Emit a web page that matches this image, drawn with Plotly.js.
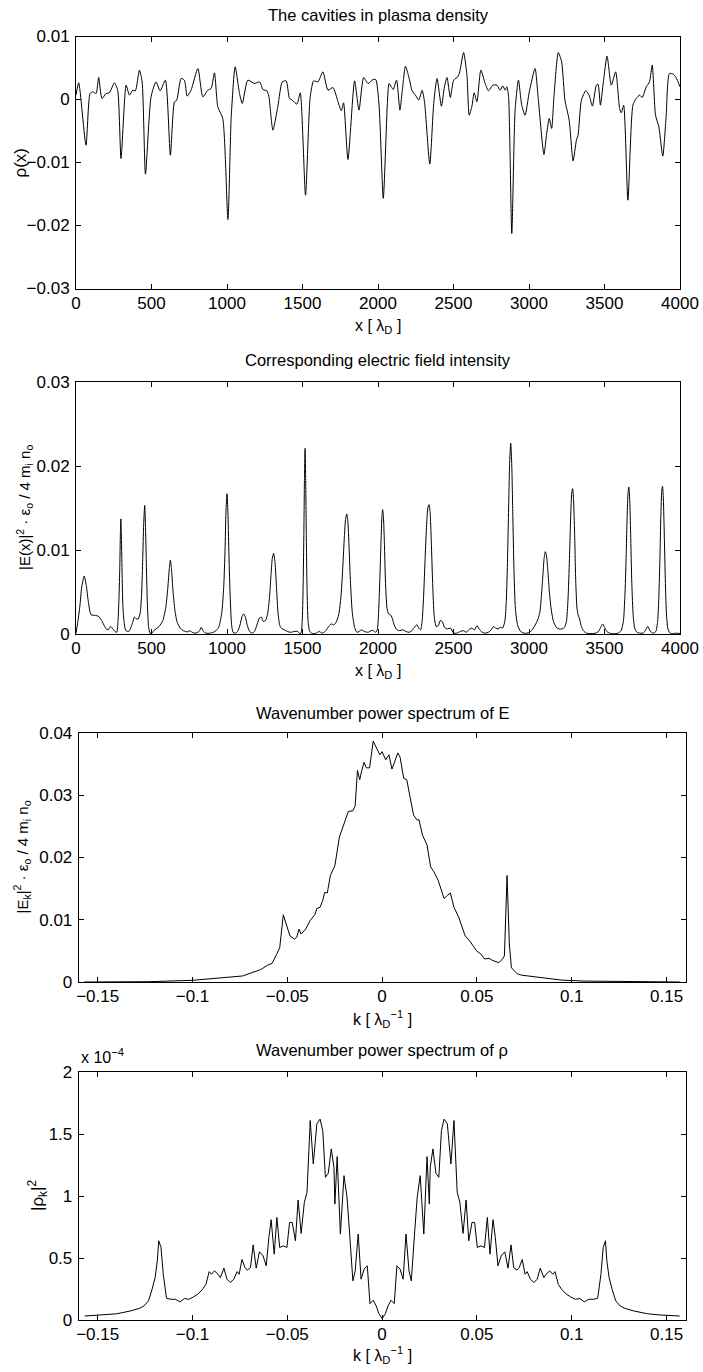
<!DOCTYPE html>
<html><head><meta charset="utf-8">
<script src="https://cdn.plot.ly/plotly-3.0.1.min.js"></script>
<style>html,body{margin:0;padding:0;background:#fff}</style>
</head><body><div id="chart" style="width:703px;height:1372px"></div>
<script>
// ---------- Panel 1: density rho(x), values in units of 1e-3 ----------
const rhoX = [0,18,66,93,110,133,150,172,199,221,254,276,298,332,354,376,393,420,438,460,497,530,557,592,625,652,667,696,718,736,762,807,840,873,895,917,939,972,1006,1028,1054,1083,1101,1138,1182,1216,1238,1264,1277,1304,1337,1366,1392,1414,1432,1463,1485,1520,1551,1574,1602,1635,1669,1702,1735,1757,1772,1801,1845,1874,1905,1934,1967,1985,2007,2035,2062,2073,2088,2101,2123,2145,2160,2182,2204,2226,2248,2270,2292,2308,2343,2369,2391,2420,2440,2457,2479,2501,2528,2541,2567,2589,2604,2622,2637,2655,2681,2710,2732,2760,2787,2809,2826,2842,2853,2864,2886,2908,2930,2952,2974,3002,3040,3062,3099,3117,3134,3150,3165,3194,3216,3238,3266,3292,3314,3325,3347,3376,3398,3420,3446,3457,3473,3490,3517,3545,3574,3600,3611,3627,3655,3688,3710,3732,3750,3776,3798,3816,3838,3860,3886,3908,3930,3956,3974,4000];
const rhoVal = [0.69,2.65,-7.25,0.95,1.22,0.95,3.49,0.16,0.95,1.06,2.65,1.48,-9.37,2.28,0.69,1.48,1.38,4.66,2.8,-11.85,0.42,2.8,1.38,3.07,-8.84,-0.37,-0.1,3.33,3.07,0.53,1.48,4.92,0.42,1.48,1.75,4.23,-1.16,-3.02,-19.05,-2.75,5.19,0.95,-0.63,3.07,2.54,2.8,1.59,1.38,0.53,-4.87,-1.06,2.8,2.96,0.16,-0.1,-0.74,1.06,-15.19,0.42,2.96,2.8,4.39,1.48,1.9,-0.37,-1.8,-0.53,-9.52,2.96,-1.69,3.49,2.54,3.17,3.17,-0.9,-15.7,-0.63,2.54,2.01,1.59,3.07,-1.69,1.22,5.29,3.6,1.38,0.69,-0.1,1.48,-0.37,-10.26,-0.63,3.33,-1.06,2.01,3.49,0.32,3.07,3.6,4.39,7.46,3.86,-2.49,-1.06,1.06,-0.37,4.66,2.54,1.38,2.28,2.28,1.48,2.17,1.48,2.01,0.69,-21.27,-1.69,3.07,-0.9,-2.49,1.22,4.92,-0.1,-8.73,-5.4,-3.02,-4.6,0.42,7.46,5.98,-0.1,-3.28,-9.74,-6.46,-5.66,-0.1,1.38,0.69,-1.06,2.28,2.43,-0.9,2.28,6.88,2.28,4.39,-1.43,-2.12,-0.9,-15.98,-0.9,0.16,0.69,0.32,2.01,2.8,5.45,-2.49,-4.34,-8.99,-2.75,4.13,4.02,3.49,2.01];

// ---------- Panel 2: field intensity, units of 1e-3 ----------
const eX = [0,10,25,38,54,68,82,100,130,150,170,190,205,218,230,245,258,270,278,285,290,294,297,300,305,310,318,330,350,372,387,400,412,425,435,442,448,455,460,465,472,480,490,500,515,530,550,575,595,608,618,625,632,642,655,670,690,710,740,755,770,790,815,830,845,860,890,920,945,965,978,987,993,1000,1006,1012,1020,1030,1040,1055,1070,1085,1100,1110,1122,1135,1150,1170,1185,1200,1215,1228,1240,1255,1270,1282,1292,1300,1309,1318,1328,1338,1350,1365,1380,1400,1420,1445,1470,1480,1490,1498,1504,1509,1513,1517,1521,1525,1530,1537,1548,1565,1590,1610,1630,1650,1670,1690,1705,1720,1740,1755,1767,1777,1785,1793,1800,1808,1818,1830,1845,1860,1875,1890,1910,1935,1955,1970,1985,1995,2005,2013,2020,2026,2031,2036,2042,2050,2060,2070,2082,2092,2105,2120,2140,2165,2185,2205,2225,2245,2258,2270,2282,2292,2302,2312,2322,2330,2338,2345,2353,2362,2372,2385,2400,2412,2425,2440,2460,2480,2500,2520,2545,2565,2585,2600,2620,2640,2655,2670,2690,2710,2730,2750,2765,2780,2795,2810,2825,2840,2850,2858,2865,2872,2879,2886,2893,2900,2910,2925,2945,2965,2985,3005,3025,3045,3060,3072,3082,3092,3100,3108,3116,3125,3135,3148,3162,3180,3200,3220,3235,3248,3258,3268,3276,3283,3289,3295,3302,3310,3318,3325,3335,3345,3360,3380,3400,3420,3440,3460,3475,3488,3500,3515,3535,3560,3590,3610,3625,3635,3643,3650,3656,3661,3667,3673,3681,3690,3700,3715,3735,3755,3770,3786,3798,3810,3825,3840,3852,3860,3867,3873,3879,3884,3889,3895,3902,3910,3920,3935,3955,3975,4000];
const eVal = [0.1,1.2,3.2,5.6,6.9,5.8,3.8,2.3,2.2,2.1,1.6,0.9,0.5,0.6,0.9,0.6,0.3,0.2,1.5,4.5,8,12,13.7,12,7.5,3.5,1.5,0.4,0.3,1.2,2.0,1.8,1.8,2.5,5,9,13,15.3,13,9,4,1.0,0.1,0.05,0.4,0.6,0.9,1.6,3.2,5.5,7.8,8.8,7.8,5.2,2.8,1.4,0.7,0.4,0.25,0.4,0.2,0.1,0.3,0.8,0.3,0.1,0.1,0.3,0.8,2.5,5.5,10,14.5,16.7,14.5,10,5,1.2,0.2,0.1,0.3,1.0,2.1,2.4,2.0,1.0,0.3,0.1,0.4,1.2,1.9,2.0,1.5,1.6,2.5,4.5,7.2,9.0,9.6,8.5,5.5,2.5,1.0,0.6,0.5,0.3,0.2,0.3,0.3,0.05,0.1,1.5,5.5,12,18.5,22.1,18.5,12,5.5,1.5,0.3,0.05,0.1,0.3,0.1,0.3,0.8,1.2,1.1,1.3,2.3,4.5,8,11.5,13.6,14.3,13.5,10.5,6,2.5,0.8,0.2,0.3,0.5,0.3,0.2,0.4,0.4,0.2,0.5,3,7,11,14,14.8,14,11,6,3.0,2.4,2.3,2.0,1.2,0.6,0.4,0.5,0.3,0.2,0.4,0.9,1.1,0.7,0.5,1.5,4.5,9,13,15,15.4,14.5,11,6,2.2,0.9,1.0,1.6,1.5,0.8,0.6,0.7,0.1,0.1,0.3,0.4,0.2,0.5,0.7,0.5,1.0,0.6,0.2,0.1,0.2,0.5,0.9,0.7,0.6,0.8,0.7,1.5,4,9,15,20.5,22.7,20,14,8,3,1.0,0.3,0.1,0.1,0.2,0.6,1.2,1.8,2.6,4.5,7,9,9.8,9.3,7.5,5,2.8,1.5,0.8,0.6,0.6,0.8,1.5,4,9,14,16.8,17.3,16,12,6,3,2.3,1.8,1.0,0.4,0.1,0.05,0.05,0.1,0.3,0.8,1.2,0.8,0.3,0.1,0.05,0.1,0.4,1.5,4.5,9,14,16.8,17.5,16,12,6,2.2,0.7,0.2,0.1,0.1,0.4,0.9,0.5,0.2,0.1,0.3,1.5,4.5,9,14,17,17.6,16.5,12.5,7,2.5,0.6,0.1,0.05,0.1,0.05];

// ---------- Panel 3: power spectrum of E, units of 1e-3 ----------
const ekK = [-0.157,-0.14,-0.123,-0.1,-0.0877,-0.0806,-0.0735,-0.0687,-0.064,-0.0604,-0.058,-0.0557,-0.054,-0.0521,-0.0505,-0.0486,-0.0462,-0.045,-0.0438,-0.0427,-0.0403,-0.0379,-0.0355,-0.0344,-0.0327,-0.0313,-0.0303,-0.0289,-0.0273,-0.0249,-0.0225,-0.0201,-0.0178,-0.0154,-0.0142,-0.013,-0.0118,-0.0107,-0.0095,-0.0083,-0.0066,-0.0047,-0.0028,-0.0012,0,0.0019,0.0036,0.0052,0.0083,0.0095,0.0114,0.013,0.0147,0.0166,0.0185,0.0194,0.0213,0.0237,0.0256,0.0273,0.0296,0.0327,0.0344,0.036,0.0379,0.0403,0.0438,0.0462,0.0498,0.0521,0.054,0.0564,0.058,0.0616,0.0635,0.0645,0.0659,0.0671,0.0682,0.0711,0.0735,0.0829,0.0948,0.1066,0.13,0.157];
const ekVal = [0.0,0.02,0.05,0.27,0.54,0.8,0.97,1.5,2.0,2.7,3.0,4.4,5.5,10.8,9.3,7.4,6.9,7.2,8.5,7.7,8.5,9.9,10.8,11.8,12.0,13.1,14.4,14.3,17.1,18.7,23.3,25.5,27.4,27.5,28.3,34.0,32.5,34.0,35.3,34.4,34.4,38.7,37.6,36.5,37.0,35.7,36.5,34.2,36.8,36.1,32.7,32.5,29.8,26.8,26.0,26.1,23.6,22.0,18.5,17.7,16.3,13.4,13.9,14.3,12.0,10.5,7.4,6.6,5.0,4.5,3.7,3.8,3.5,3.1,3.7,4.2,17.1,6.1,2.3,1.35,1.1,0.7,0.3,0.15,0.05,0.0];

// ---------- Panel 4: power spectrum of rho, units of 1e-4 ----------
const rkK = [-0.1569,-0.147,-0.14,-0.1327,-0.128,-0.1256,-0.1232,-0.1213,-0.1197,-0.1185,-0.1178,-0.1166,-0.1154,-0.1137,-0.1114,-0.109,-0.1066,-0.1043,-0.1019,-0.0995,-0.0972,-0.0948,-0.0929,-0.0912,-0.09,-0.0884,-0.0865,-0.0853,-0.0834,-0.0818,-0.0801,-0.0782,-0.0765,-0.0754,-0.0739,-0.0723,-0.0711,-0.0694,-0.068,-0.0664,-0.0647,-0.0628,-0.0611,-0.0597,-0.0585,-0.0569,-0.0555,-0.054,-0.0521,-0.0502,-0.0488,-0.0474,-0.0457,-0.0443,-0.0427,-0.041,-0.0396,-0.0379,-0.0363,-0.0344,-0.0327,-0.0313,-0.0299,-0.0284,-0.0268,-0.0254,-0.0249,-0.0237,-0.022,-0.0201,-0.0185,-0.0171,-0.0154,-0.0142,-0.0126,-0.0111,-0.0095,-0.0078,-0.0064,-0.0047,-0.0031,-0.0017,0,
 0.0017,0.0031,0.0047,0.0064,0.0078,0.0095,0.0111,0.0126,0.0142,0.0154,0.0171,0.0185,0.0201,0.022,0.0237,0.0249,0.0254,0.0268,0.0284,0.0299,0.0313,0.0327,0.0344,0.0363,0.0379,0.0396,0.041,0.0427,0.0443,0.0457,0.0474,0.0488,0.0502,0.0521,0.054,0.0555,0.0569,0.0585,0.0597,0.0611,0.0628,0.0647,0.0664,0.068,0.0694,0.0711,0.0723,0.0739,0.0754,0.0765,0.0782,0.0801,0.0818,0.0834,0.0853,0.0865,0.0884,0.09,0.0912,0.0929,0.0948,0.0972,0.0995,0.1019,0.1043,0.1066,0.109,0.1114,0.1137,0.1154,0.1166,0.1178,0.1185,0.1197,0.1213,0.1232,0.1256,0.128,0.1327,0.14,0.147,0.1569];
const rkVal = [0.032,0.04,0.05,0.073,0.094,0.113,0.154,0.248,0.342,0.482,0.639,0.585,0.369,0.175,0.167,0.167,0.146,0.173,0.167,0.186,0.208,0.245,0.288,0.39,0.369,0.396,0.369,0.342,0.418,0.329,0.302,0.329,0.39,0.369,0.488,0.423,0.402,0.423,0.606,0.418,0.55,0.518,0.437,0.666,0.809,0.531,0.827,0.585,0.598,0.585,0.787,0.787,0.639,0.968,0.698,0.949,1.03,1.609,1.259,1.582,1.62,1.528,1.151,1.183,1.38,1.232,0.935,1.318,0.693,1.164,0.989,0.693,0.315,0.396,0.693,0.329,0.41,0.437,0.132,0.159,0.113,0.051,0.011,
 0.051,0.113,0.159,0.132,0.437,0.41,0.329,0.693,0.396,0.315,0.693,0.989,1.164,0.693,1.318,0.935,1.232,1.38,1.183,1.151,1.528,1.62,1.582,1.259,1.609,1.03,0.949,0.698,0.968,0.639,0.787,0.787,0.585,0.598,0.585,0.827,0.531,0.809,0.666,0.437,0.518,0.55,0.418,0.606,0.423,0.402,0.423,0.488,0.369,0.39,0.329,0.302,0.329,0.418,0.342,0.369,0.396,0.369,0.39,0.288,0.245,0.208,0.186,0.167,0.173,0.146,0.167,0.167,0.175,0.369,0.585,0.639,0.482,0.342,0.248,0.154,0.113,0.094,0.073,0.05,0.04,0.032];

// ---------- Tick values and labels ----------
const xTicksX = [0,500,1000,1500,2000,2500,3000,3500,4000];
const xTicksXText = ['0','500','1000','1500','2000','2500','3000','3500','4000'];
const rhoTicks = [-30,-20,-10,0,10];
const rhoTickText = ['\u22120.03','\u22120.02','\u22120.01','0','0.01'];
const eTicks = [0,10,20,30];
const eTickText = ['0','0.01','0.02','0.03'];
const kTicks = [-0.15,-0.1,-0.05,0,0.05,0.1,0.15];
const kTickText = ['\u22120.15','\u22120.1','\u22120.05','0','0.05','0.1','0.15'];
const ekTicks = [0,10,20,30,40];
const ekTickText = ['0','0.01','0.02','0.03','0.04'];
const rkTicks = [0,0.5,1,1.5,2];
const rkTickText = ['0','0.5','1','1.5','2'];

const titles = ['The cavities in plasma density','Corresponding electric field intensity','Wavenumber power spectrum of E','Wavenumber power spectrum of \u03c1'];
const xLabels = ['x [ \u03bb<sub>D</sub> ]','x [ \u03bb<sub>D</sub> ]','k [ \u03bb<sub>D</sub><sup>\u22121</sup> ]','k [ \u03bb<sub>D</sub><sup>\u22121</sup> ]'];
const yLabels = ['\u03c1(x)','|E(x)|<sup>2</sup> \u00b7 \u03b5<sub>o</sub> / 4 m<sub>i</sub> n<sub>o</sub>','|E<sub>k</sub>|<sup>2</sup> \u00b7 \u03b5<sub>o</sub> / 4 m<sub>i</sub> n<sub>o</sub>','|\u03c1<sub>k</sub>|<sup>2</sup>'];

// ---------- Layout geometry (pixels) ----------
const W = 703, H = 1372;
const FONT = '"Liberation Sans", Arial, sans-serif';
const px = v => v / W, py = v => 1 - v / H;
const boxes = [
  {l:76, r:680, t:36.5, b:288.5},
  {l:76, r:680, t:382, b:634},
  {l:78.7, r:685.5, t:733, b:982},
  {l:78.7, r:685.5, t:1072, b:1320}
];
const titleY = [15, 360, 713, 1050];
const xLabY = [326, 671, 1019, 1355];
const yLabX = [20, 24, 22, 37];
const yLabSize = [17, 15, 15, 17];

const lineStyle = {color:'#000', width:1};
const traces = [
  {x:rhoX, y:rhoVal, xaxis:'x', yaxis:'y', mode:'lines', line:Object.assign({shape:'spline', smoothing:0.6}, lineStyle)},
  {x:eX, y:eVal, xaxis:'x2', yaxis:'y2', mode:'lines', line:Object.assign({shape:'spline', smoothing:0.6}, lineStyle)},
  {x:ekK, y:ekVal, xaxis:'x3', yaxis:'y3', mode:'lines', line:lineStyle},
  {x:rkK, y:rkVal, xaxis:'x4', yaxis:'y4', mode:'lines', line:lineStyle}
];

function axisBase(){
  return {showline:true, linecolor:'#000', linewidth:1, mirror:'allticks', ticks:'inside', ticklen:5,
    tickwidth:1, tickcolor:'#000', showgrid:false, zeroline:false, tickmode:'array',
    tickfont:{family:FONT, size:17, color:'#000'}, fixedrange:true};
}
const layout = {width:W, height:H, margin:{l:0,r:0,t:0,b:0}, showlegend:false,
  paper_bgcolor:'#fff', plot_bgcolor:'#fff', annotations:[]};
const xr = [[0,4000],[0,4000],[-0.16,0.16],[-0.16,0.16]];
const yr = [[-30,10],[0,30],[0,40],[0,2]];
const xt = [[xTicksX,xTicksXText],[xTicksX,xTicksXText],[kTicks,kTickText],[kTicks,kTickText]];
const yt = [[rhoTicks,rhoTickText],[eTicks,eTickText],[ekTicks,ekTickText],[rkTicks,rkTickText]];
for (let i=0;i<4;i++){
  const s = i===0?'':String(i+1);
  const b = boxes[i];
  const xa = axisBase(), ya = axisBase();
  xa.domain=[px(b.l), px(b.r)]; xa.range=xr[i]; xa.anchor='y'+s;
  xa.tickvals=xt[i][0]; xa.ticktext=xt[i][1]; xa.ticklabelstandoff=-1;
  ya.domain=[py(b.b), py(b.t)]; ya.range=yr[i]; ya.anchor='x'+s;
  ya.tickvals=yt[i][0]; ya.ticktext=yt[i][1]; ya.ticklabelstandoff=2;
  layout['xaxis'+s]=xa; layout['yaxis'+s]=ya;
  const cx = (b.l+b.r)/2;
  layout.annotations.push({text:titles[i], xref:'paper', yref:'paper', x:px(cx), y:py(titleY[i]),
    xanchor:'center', yanchor:'middle', showarrow:false, font:{family:FONT, size:16.5, color:'#000'}});
  layout.annotations.push({text:xLabels[i], xref:'paper', yref:'paper', x:px(cx), y:py(xLabY[i]),
    xanchor:'center', yanchor:'middle', showarrow:false, font:{family:FONT, size:16, color:'#000'}});
  layout.annotations.push({text:yLabels[i], xref:'paper', yref:'paper', x:px(yLabX[i]), y:py((b.t+b.b)/2),
    xanchor:'center', yanchor:'middle', textangle:-90, showarrow:false, font:{family:FONT, size:yLabSize[i], color:'#000'}});
}
layout.annotations.push({text:'x 10<sup>\u22124</sup>', xref:'paper', yref:'paper', x:px(79), y:py(1068),
  xanchor:'left', yanchor:'bottom', showarrow:false, font:{family:FONT, size:16, color:'#000'}});

Plotly.newPlot('chart', traces, layout, {displayModeBar:false, staticPlot:true});
</script></body></html>
